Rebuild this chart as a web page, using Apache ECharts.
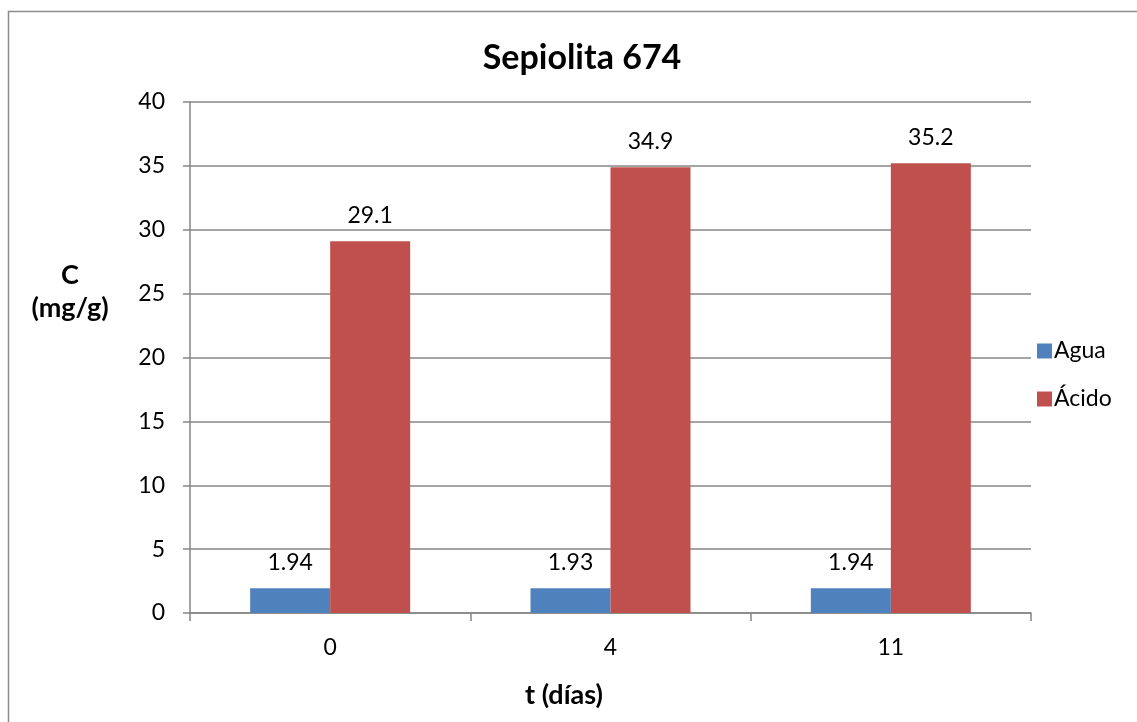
<!DOCTYPE html>
<html>
<head>
<meta charset="utf-8">
<script src="https://cdn.jsdelivr.net/npm/echarts@6/dist/echarts.min.js"></script>
<style>
  html, body { margin: 0; padding: 0; background: #fff; }
  #chart { width: 1137px; height: 722px; }
</style>
</head>
<body>
<div id="chart"></div>
<script>
// Days of measurement and concentrations (mg/g) for each medium
const dias = ['0', '4', '11'];
const agua = [1.94, 1.93, 1.94];
const acido = [29.1, 34.9, 35.2];
const yTicks = [0, 5, 10, 15, 20, 25, 30, 35, 40];

const FONT = 'Lato, "Open Sans", sans-serif';
const chart = echarts.init(document.getElementById('chart'));

const labelStyle = {
  show: true,
  position: 'top',
  distance: 14,
  color: '#000',
  fontSize: 23,
  fontFamily: FONT
};

chart.setOption({
  animation: false,
  backgroundColor: '#fff',
  title: {
    text: 'Sepiolita 674',
    left: 577,
    top: 36,
    textAlign: 'center',
    textStyle: { fontSize: 34, fontWeight: 'bold', color: '#000', fontFamily: FONT }
  },
  graphic: [{
    type: 'rect',
    shape: { x: 8.5, y: 11.5, width: 1140, height: 720 },
    style: { fill: 'none', stroke: '#8c8c8c', lineWidth: 1.5 },
    silent: true
  }, {
    type: 'text',
    x: 70,
    y: 292,
    style: {
      text: 'C\n(mg/g)',
      align: 'center',
      verticalAlign: 'middle',
      fill: '#000',
      font: 'bold 27px ' + FONT,
      lineHeight: 33
    },
    silent: true
  }, {
    type: 'text',
    x: 564,
    y: 695,
    style: {
      text: 't (días)',
      align: 'center',
      verticalAlign: 'middle',
      fill: '#000',
      font: 'bold 27px ' + FONT
    },
    silent: true
  }],
  legend: {
    orient: 'vertical',
    left: 1032,
    top: 333,
    itemWidth: 15,
    itemHeight: 15,
    itemGap: 22,
    icon: 'rect',
    textStyle: { fontSize: 23, lineHeight: 26, color: '#000', fontFamily: FONT, padding: [0, 0, 0, -3] },
    data: ['Agua', 'Ácido']
  },
  grid: { left: 190, top: 102, width: 841, height: 511, containLabel: false },
  xAxis: {
    type: 'category',
    data: dias,
    axisLine: { lineStyle: { color: '#868686', width: 1.5 } },
    axisTick: { show: true, length: 8, alignWithLabel: false, lineStyle: { color: '#868686', width: 1.5 } },
    axisLabel: { fontSize: 23, color: '#000', fontFamily: FONT, margin: 23 }
  },
  yAxis: {
    type: 'value',
    min: yTicks[0],
    max: yTicks[yTicks.length - 1],
    interval: 5,
    axisLine: { show: true, lineStyle: { color: '#868686', width: 1.5 } },
    axisTick: { show: true, length: 7, lineStyle: { color: '#868686', width: 1.5 } },
    axisLabel: { fontSize: 23, color: '#000', fontFamily: FONT, margin: 25 },
    splitLine: { lineStyle: { color: '#868686', width: 1.5 } }
  },
  series: [{
    name: 'Agua',
    type: 'bar',
    data: agua,
    barWidth: 80,
    barGap: '0%',
    itemStyle: { color: '#4f81bd' },
    label: labelStyle
  }, {
    name: 'Ácido',
    type: 'bar',
    data: acido,
    barWidth: 80,
    barGap: '0%',
    itemStyle: { color: '#c0504d' },
    label: labelStyle
  }]
});
</script>
</body>
</html>
